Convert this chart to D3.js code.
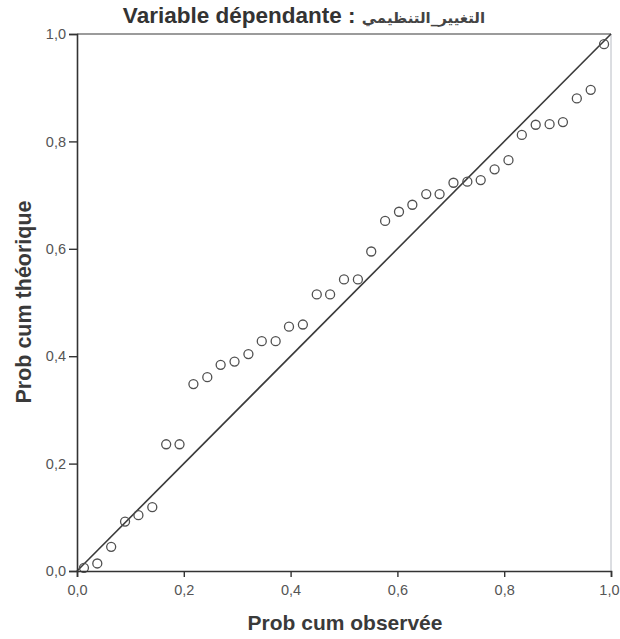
<!DOCTYPE html>
<html>
<head>
<meta charset="utf-8">
<script src="https://cdn.jsdelivr.net/npm/d3@7"></script>
<style>
  html, body { margin: 0; padding: 0; background: #ffffff; }
  svg { display: block; }
</style>
</head>
<body>
<svg id="chart" width="620" height="639"></svg>
<script>
const titleLatin = "Variable dépendante : ";
const titleArabic = "التغيير_التنظيمي";
const xLabel = "Prob cum observée";
const yLabel = "Prob cum théorique";
const tickValues = [0, 0.2, 0.4, 0.6, 0.8, 1.0];
const tickLabels = ["0,0", "0,2", "0,4", "0,6", "0,8", "1,0"];
const observed = [0.013, 0.038, 0.064, 0.090, 0.115, 0.141, 0.167, 0.192, 0.218, 0.244,
  0.269, 0.295, 0.321, 0.346, 0.372, 0.397, 0.423, 0.449, 0.474, 0.500,
  0.526, 0.551, 0.577, 0.603, 0.628, 0.654, 0.679, 0.705, 0.731, 0.756,
  0.782, 0.808, 0.833, 0.859, 0.885, 0.910, 0.936, 0.962, 0.987];
const expected = [0.006, 0.014, 0.045, 0.092, 0.104, 0.119, 0.236, 0.236, 0.348, 0.361,
  0.384, 0.390, 0.404, 0.428, 0.428, 0.455, 0.459, 0.515, 0.515, 0.543,
  0.543, 0.595, 0.652, 0.669, 0.682, 0.702, 0.702, 0.723, 0.725, 0.728,
  0.748, 0.765, 0.812, 0.831, 0.832, 0.836, 0.880, 0.896, 0.981];
const refLine = [0, 1];

(function () {
const svg = d3.select("#chart");
const mLeft = 77, mRight = 611, mTop = 34, mBottom = 571;
const x = d3.scaleLinear().domain([0, 1]).range([mLeft, mRight]);
const y = d3.scaleLinear().domain([0, 1]).range([mBottom, mTop]);
const font = "'Liberation Sans', Arial, 'DejaVu Sans', sans-serif";

// frame
svg.append("line").attr("x1", mLeft).attr("x2", mRight).attr("y1", mTop).attr("y2", mTop)
  .attr("stroke", "#7a7a7a").attr("stroke-width", 1.5);
svg.append("line").attr("x1", mRight).attr("x2", mRight).attr("y1", mTop).attr("y2", mBottom)
  .attr("stroke", "#b8bcc4").attr("stroke-width", 1);

// reference line
svg.append("line")
  .attr("x1", x(refLine[0])).attr("y1", y(refLine[0]))
  .attr("x2", x(refLine[1])).attr("y2", y(refLine[1]))
  .attr("stroke", "#3a3a3a").attr("stroke-width", 1.6);

// points
svg.append("g").selectAll("circle")
  .data(observed.map((d, i) => [d, expected[i]]))
  .join("circle")
  .attr("cx", d => x(d[0])).attr("cy", d => y(d[1]))
  .attr("r", 4.5)
  .attr("fill", "none").attr("stroke", "#505050").attr("stroke-width", 1.3);

// axes
const xAxis = d3.axisBottom(x).tickValues(tickValues)
  .tickFormat((d, i) => tickLabels[i]).tickSize(6).tickPadding(8);
const yAxis = d3.axisLeft(y).tickValues(tickValues)
  .tickFormat((d, i) => tickLabels[i]).tickSize(8).tickPadding(3);

const gx = svg.append("g").attr("transform", `translate(0,${mBottom})`).call(xAxis);
const gy = svg.append("g").attr("transform", `translate(${mLeft},0)`).call(yAxis);
[gx, gy].forEach(g => {
  g.select(".domain").attr("stroke", "#333").attr("stroke-width", 1.6);
  g.selectAll(".tick line").attr("stroke", "#333").attr("stroke-width", 1.4);
  g.selectAll(".tick text").attr("fill", "#555").style("font-family", font).style("font-size", "14.5px");
});
// keep the last x label inside the page
gx.selectAll(".tick text").filter(d => d === 1).attr("text-anchor", "end").attr("dx", "8");

// title
const t = svg.append("text").attr("x", 304).attr("y", 23).attr("text-anchor", "middle")
  .style("font-family", font).style("font-weight", "bold").attr("fill", "#333");
t.append("tspan").style("font-size", "22.5px").text(titleLatin);
t.append("tspan").style("font-size", "15px").style("font-family", "'DejaVu Sans', sans-serif")
  .attr("fill", "#444").text(titleArabic);

// axis labels
svg.append("text").attr("x", 345).attr("y", 630).attr("text-anchor", "middle")
  .style("font-family", font).style("font-size", "21px").style("font-weight", "bold")
  .attr("fill", "#3a3a3a").text(xLabel);
svg.append("text").attr("transform", "translate(31,302) rotate(-90)").attr("text-anchor", "middle")
  .style("font-family", font).style("font-size", "21.5px").style("font-weight", "bold")
  .attr("fill", "#3a3a3a").text(yLabel);
})();
</script>
</body>
</html>
